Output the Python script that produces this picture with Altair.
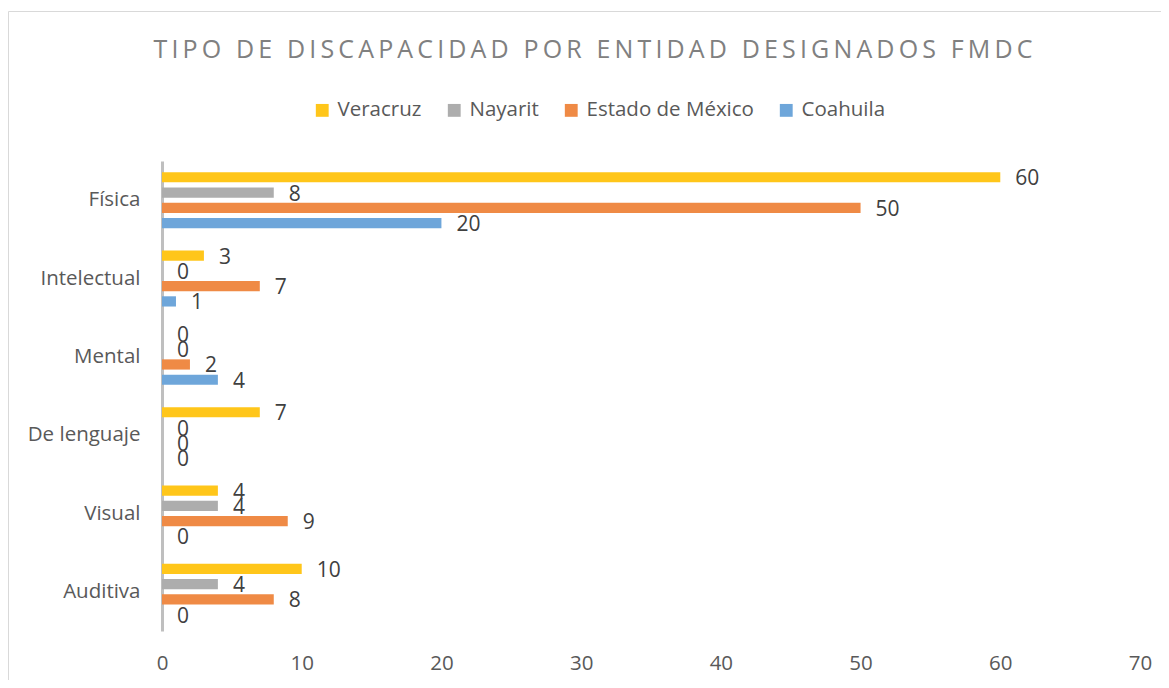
import altair as alt
import pandas as pd

categories = ["Física", "Intelectual", "Mental", "De lenguaje", "Visual", "Auditiva"]
series = ["Veracruz", "Nayarit", "Estado de México", "Coahuila"]
veracruz = [60, 3, 0, 7, 4, 10]
nayarit = [8, 0, 0, 0, 4, 4]
edomex = [50, 7, 2, 0, 9, 8]
coahuila = [20, 1, 4, 0, 0, 0]
x_ticks = [0, 10, 20, 30, 40, 50, 60, 70]
colors = ["#FFC61A", "#ADADAD", "#EF8A45", "#6EA6DA"]

rows = []
for name, vals in zip(series, [veracruz, nayarit, edomex, coahuila]):
    for c, v in zip(categories, vals):
        rows.append({"categoria": c, "entidad": name, "valor": v})
df = pd.DataFrame(rows)

FONT = "Open Sans"
FS = 20.5
W, H = 978, 470

base = alt.Chart(df).encode(
    y=alt.Y("categoria:N", sort=categories,
            scale=alt.Scale(paddingInner=0.22, paddingOuter=0.11),
            axis=alt.Axis(title=None, ticks=False, domainColor="#BFBFBF", domainWidth=3,
                          labelPadding=22, labelFontSize=FS, labelColor="#595959",
                          labelFont=FONT)),
    yOffset=alt.YOffset("entidad:N", sort=series,
                        scale=alt.Scale(paddingInner=0.33, paddingOuter=0.165)),
)

bars = base.mark_bar().encode(
    x=alt.X("valor:Q", scale=alt.Scale(domain=[0, 70], nice=False),
            axis=alt.Axis(title=None, values=x_ticks, grid=False, domain=False, ticks=False,
                          labelFlush=False,
                          labelPadding=22, labelFontSize=FS, labelColor="#595959",
                          labelFont=FONT)),
    color=alt.Color("entidad:N", sort=series,
                    scale=alt.Scale(domain=series, range=colors),
                    legend=alt.Legend(title=None, orient="none", legendX=150, legendY=-61,
                                      direction="horizontal", columns=4,
                                      symbolType="square", symbolSize=165,
                                      symbolStrokeWidth=0, labelLimit=400,
                                      labelFontSize=FS, labelColor="#595959", labelFont=FONT,
                                      labelOffset=5, columnPadding=22)),
)

labels = base.mark_text(align="left", baseline="middle", dx=15, dy=2,
                        fontSize=FS + 0.5, color="#404040", font=FONT).encode(
    x=alt.X("valor:Q"),
    text=alt.Text("valor:Q"),
)

frame = alt.Chart(pd.DataFrame({"a": [0]})).mark_rect(
    fill=None, stroke="#D9D9D9", strokeWidth=1
).encode(
    x=alt.value(-153.5), x2=alt.value(W + 22), y=alt.value(-149.5), y2=alt.value(H + 60)
)

title_text = "\u2009".join(list("TIPO DE DISCAPACIDAD POR ENTIDAD DESIGNADOS FMDC"))

chart = alt.layer(frame, bars, labels).properties(
    width=W, height=H,
    title=alt.TitleParams(title_text, anchor="middle", dx=-58, dy=52, fontSize=25,
                          fontWeight="normal", color="#808080", font=FONT, offset=0),
    autosize=alt.AutoSizeParams(type="none"),
    padding={"left": 154, "top": 153, "right": 21, "bottom": 49},
    background="white",
).configure_view(stroke="transparent", strokeWidth=0)

chart.save("out.html", embed_options={"renderer": "svg", "actions": False})
